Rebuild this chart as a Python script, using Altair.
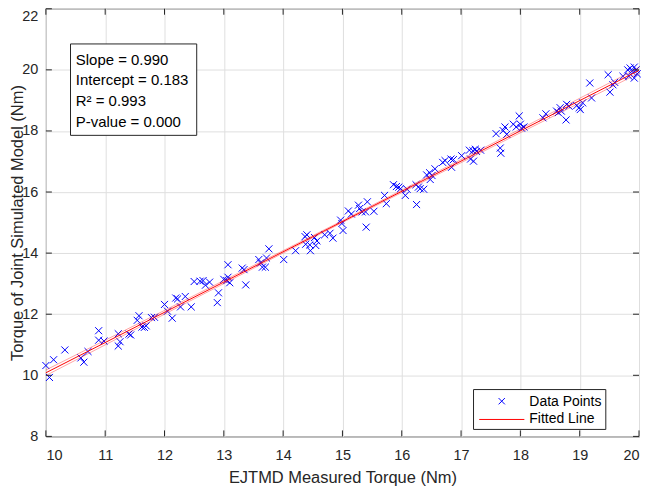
import altair as alt
import pandas as pd

# ---------------- data ----------------
x_measured = [
    10.00, 10.06, 10.13, 10.32, 10.59, 10.64, 10.71, 10.89, 10.89, 10.98,
    11.22, 11.25, 11.22, 11.40, 11.43, 11.54, 11.57, 11.62, 11.66, 11.69,
    11.78, 11.83, 12.00, 12.05, 12.13, 12.19, 12.22, 12.27, 12.35, 12.45,
    12.50, 12.60, 12.65, 12.69, 12.76, 12.89, 12.91, 13.00, 13.05, 13.07,
    13.07, 13.10, 13.31, 13.34, 13.37, 13.59, 13.62, 13.65, 13.70, 13.72,
    13.76, 14.01, 14.21, 14.37, 14.38, 14.40, 14.45, 14.46, 14.53, 14.55,
    14.57, 14.70, 14.79, 14.84, 14.97, 14.99, 15.01, 15.10, 15.15, 15.27,
    15.29, 15.33, 15.39, 15.40, 15.42, 15.53, 15.71, 15.74, 15.86, 15.91,
    15.95, 15.98, 16.06, 16.09, 16.24, 16.25, 16.28, 16.31, 16.37, 16.42,
    16.47, 16.48, 16.51, 16.56, 16.69, 16.73, 16.83, 16.84, 16.87, 17.01,
    17.14, 17.16, 17.20, 17.21, 17.24, 17.26, 17.33, 17.59, 17.66, 17.67,
    17.71, 17.74, 17.77, 17.88, 17.93, 17.98, 18.00, 18.02, 18.06, 18.38,
    18.43, 18.61, 18.64, 18.67, 18.69, 18.77, 18.78, 18.82, 18.95, 18.99,
    19.01, 19.05, 19.17, 19.20, 19.48, 19.51, 19.56, 19.59, 19.73, 19.81,
    19.83, 19.85, 19.88, 19.92, 19.92, 19.95, 19.97,
]
y_simulated = [
    10.32, 9.93, 10.51, 10.83, 10.57, 10.43, 10.78, 11.46, 11.15, 11.12,
    11.36, 11.10, 10.96, 11.35, 11.32, 11.80, 11.95, 11.58, 11.57, 11.62,
    11.89, 11.90, 12.32, 12.10, 11.87, 12.53, 12.50, 12.24, 12.58, 12.24,
    13.07, 13.08, 13.10, 12.95, 13.05, 12.38, 12.70, 13.14, 13.10, 13.21,
    13.62, 13.03, 13.51, 13.46, 12.96, 13.79, 13.68, 13.54, 13.54, 13.84,
    14.14, 13.79, 14.08, 14.54, 14.29, 14.60, 14.27, 14.08, 14.51, 14.25,
    14.40, 14.60, 14.65, 14.49, 15.08, 14.97, 14.74, 15.38, 15.28, 15.57,
    15.46, 15.35, 15.35, 14.85, 15.68, 15.37, 15.89, 15.62, 16.24, 16.18,
    16.16, 16.11, 15.89, 16.09, 16.24, 15.59, 16.16, 16.11, 16.09, 16.56,
    16.63, 16.41, 16.54, 16.76, 16.97, 17.03, 17.08, 16.81, 17.06, 17.19,
    17.37, 17.08, 17.35, 17.01, 17.40, 17.33, 17.37, 17.91, 17.44, 17.27,
    18.01, 18.13, 17.89, 18.22, 18.13, 18.49, 18.22, 18.09, 18.13, 18.43,
    18.56, 18.65, 18.60, 18.76, 18.65, 18.36, 18.87, 18.81, 18.83, 18.76,
    18.70, 18.92, 19.57, 19.08, 19.84, 19.27, 19.51, 19.59, 19.79, 20.00,
    19.79, 20.06, 19.95, 20.09, 19.73, 20.00, 19.87,
]

fit_x = [10, 20]
fit_y = [10.083, 19.983]
band_x = [10, 12.5, 15, 17.5, 20]
band_upper = [10.173, 12.613, 15.063, 17.563, 20.073]
band_lower = [9.993, 12.503, 15.003, 17.453, 19.893]

x_ticks = [10, 11, 12, 13, 14, 15, 16, 17, 18, 19, 20]
y_ticks = [8, 10, 12, 14, 16, 18, 20, 22]

stats_lines = ["Slope = 0.990", "Intercept = 0.183", "R\u00b2 = 0.993", "P-value = 0.000"]
legend_labels = ["Data Points", "Fitted Line"]
x_title = "EJTMD Measured Torque (Nm)"
y_title = "Torque of Joint Simulated Model (Nm)"

# ---------------- styling ----------------
W, H = 595, 429
FONT = "Liberation Sans"
DARK = "#262626"
BLUE = "#0000ff"
RED = "#ff0000"
X_SHAPE = "M-1,-1L1,1M-1,1L1,-1"
STATS_Y = [51.3, 71.8, 92.8, 113.5]   # pixel rows of the stats lines

xs = alt.Scale(domain=[10, 20], nice=False, zero=False)
ys = alt.Scale(domain=[8, 22], nice=False, zero=False)

pts = pd.DataFrame({"x": x_measured, "y": y_simulated})
fit = pd.DataFrame({"x": fit_x, "y": fit_y})
band_u = pd.DataFrame({"x": band_x, "y": band_upper})
band_l = pd.DataFrame({"x": band_x, "y": band_lower})
xt = pd.DataFrame({"x": x_ticks})
yt = pd.DataFrame({"y": y_ticks})
one = pd.DataFrame({"k": [0]})

points = alt.Chart(pts).mark_point(
    shape=X_SHAPE, size=50, filled=False, color=BLUE, strokeWidth=1, opacity=1
).encode(
    x=alt.X("x:Q", scale=xs, axis=alt.Axis(
        values=x_ticks, title=x_title, grid=True, ticks=False, tickSize=0,
        domain=False, labelPadding=12, titlePadding=8, format="d")),
    y=alt.Y("y:Q", scale=ys, axis=alt.Axis(
        values=y_ticks, title=y_title, grid=True, ticks=False, tickSize=0,
        domain=False, labelPadding=8, format="d",
        titleX=-23, titleBaseline="alphabetic",
        labelOffset={"condition": {"test": "datum.value === 22", "value": 8}, "value": 0})),
)

def line_layer(df, color, width, opacity):
    return alt.Chart(df).mark_line(color=color, strokeWidth=width, opacity=opacity).encode(
        x=alt.X("x:Q", scale=xs), y=alt.Y("y:Q", scale=ys)
    )

upper = line_layer(band_u, RED, 0.8, 0.45)
lower = line_layer(band_l, RED, 0.8, 0.45)
fitline = line_layer(fit, RED, 1.0, 1.0)

tick_b = alt.Chart(xt).mark_rule(color=DARK, strokeWidth=1).encode(
    x=alt.X("x:Q", scale=xs), y=alt.value(H), y2=alt.value(H - 6))
tick_t = alt.Chart(xt).mark_rule(color=DARK, strokeWidth=1).encode(
    x=alt.X("x:Q", scale=xs), y=alt.value(0), y2=alt.value(6))
tick_l = alt.Chart(yt).mark_rule(color=DARK, strokeWidth=1).encode(
    y=alt.Y("y:Q", scale=ys), x=alt.value(0), x2=alt.value(6))
tick_r = alt.Chart(yt).mark_rule(color=DARK, strokeWidth=1).encode(
    y=alt.Y("y:Q", scale=ys), x=alt.value(W), x2=alt.value(W - 6))

# stats box (top-left)
stats_box = alt.Chart(one).mark_rect(fill="white", stroke=DARK, strokeWidth=1).encode(
    x=alt.value(24.7), x2=alt.value(151.3), y=alt.value(35.3), y2=alt.value(127))
stats_layers = [
    alt.Chart(one).mark_text(
        align="left", baseline="middle", font=FONT, fontSize=15, color="#000000"
    ).encode(x=alt.value(30), y=alt.value(yy), text=alt.value(txt))
    for txt, yy in zip(stats_lines, STATS_Y)
]

# legend (bottom-right)
leg_box = alt.Chart(one).mark_rect(fill="white", stroke=DARK, strokeWidth=1).encode(
    x=alt.value(429), x2=alt.value(561.7), y=alt.value(382), y2=alt.value(422))
leg_sym = alt.Chart(one).mark_point(
    shape=X_SHAPE, size=40, filled=False, color=BLUE, strokeWidth=1, opacity=1
).encode(x=alt.value(457.3), y=alt.value(393.7))
leg_line = alt.Chart(one).mark_rule(color=RED, strokeWidth=1).encode(
    x=alt.value(434.7), x2=alt.value(480), y=alt.value(412))
leg_t1 = alt.Chart(one).mark_text(
    align="left", baseline="middle", font=FONT, fontSize=14, color="#000000"
).encode(x=alt.value(485), y=alt.value(394.3), text=alt.value(legend_labels[0]))
leg_t2 = alt.Chart(one).mark_text(
    align="left", baseline="middle", font=FONT, fontSize=14, color="#000000"
).encode(x=alt.value(485), y=alt.value(412), text=alt.value(legend_labels[1]))

chart = alt.layer(
    points, upper, lower, fitline,
    tick_b, tick_t, tick_l, tick_r,
    stats_box, *stats_layers,
    leg_box, leg_sym, leg_line, leg_t1, leg_t2,
).properties(
    width=W, height=H,
    autosize=alt.AutoSizeParams(type="none"),
    padding={"left": 38, "top": 0, "right": 2, "bottom": 49},
    background="white",
).configure_view(
    stroke=DARK, strokeWidth=1
).configure_axis(
    labelFont=FONT, labelFontSize=14.5, labelColor=DARK,
    titleFont=FONT, titleFontSize=16.5, titleFontWeight="normal", titleColor=DARK,
    gridColor="#dfdfdf", gridWidth=1, gridOpacity=1,
)

chart.save("out.html", embed_options={"renderer": "svg", "actions": False})
